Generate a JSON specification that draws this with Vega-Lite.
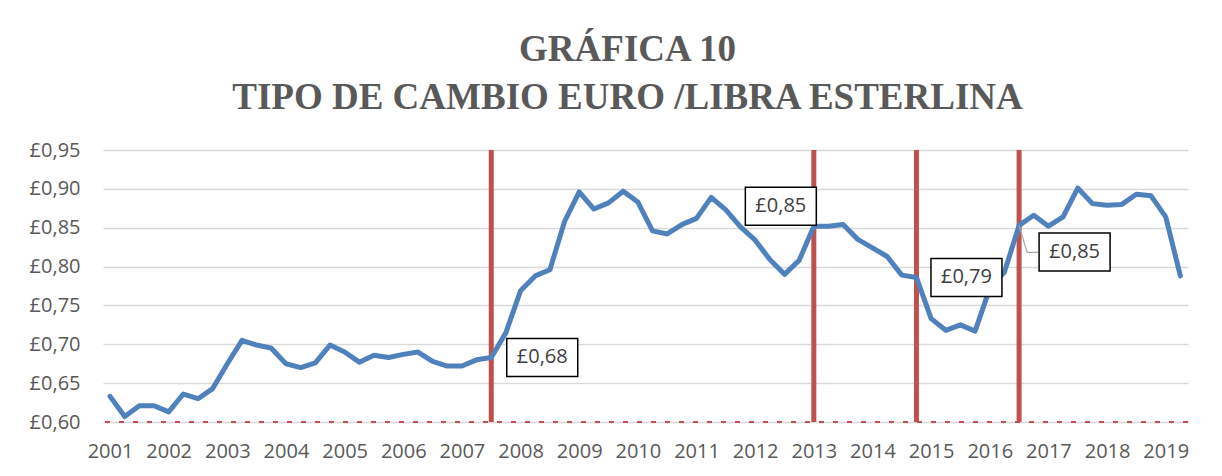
{
  "$schema": "https://vega.github.io/schema/vega-lite/v6.json",
  "width": 1085,
  "height": 272,
  "autosize": {"type": "none"},
  "padding": {"left": 103, "top": 150, "right": 34, "bottom": 54},
  "background": "white",
  "config": {"view": {"stroke": null}},
  "title": {
    "text": ["GRÁFICA 10", "TIPO DE CAMBIO EURO /LIBRA ESTERLINA"],
    "font": "Liberation Serif",
    "fontSize": 37,
    "fontWeight": "bold",
    "color": "#595959",
    "lineHeight": 48,
    "anchor": "middle",
    "frame": "group",
    "dx": -18,
    "offset": 23
  },
  "datasets": {
    "serie": [
      {"t": 2001.00, "v": 0.633}, {"t": 2001.25, "v": 0.607}, {"t": 2001.50, "v": 0.621}, {"t": 2001.75, "v": 0.621},
      {"t": 2002.00, "v": 0.613}, {"t": 2002.25, "v": 0.636}, {"t": 2002.50, "v": 0.630}, {"t": 2002.75, "v": 0.643},
      {"t": 2003.00, "v": 0.675}, {"t": 2003.25, "v": 0.705}, {"t": 2003.50, "v": 0.699}, {"t": 2003.75, "v": 0.695},
      {"t": 2004.00, "v": 0.675}, {"t": 2004.25, "v": 0.670}, {"t": 2004.50, "v": 0.676}, {"t": 2004.75, "v": 0.699},
      {"t": 2005.00, "v": 0.690}, {"t": 2005.25, "v": 0.677}, {"t": 2005.50, "v": 0.686}, {"t": 2005.75, "v": 0.683},
      {"t": 2006.00, "v": 0.687}, {"t": 2006.25, "v": 0.690}, {"t": 2006.50, "v": 0.678}, {"t": 2006.75, "v": 0.672},
      {"t": 2007.00, "v": 0.672}, {"t": 2007.25, "v": 0.680}, {"t": 2007.50, "v": 0.683}, {"t": 2007.75, "v": 0.715},
      {"t": 2008.00, "v": 0.769}, {"t": 2008.25, "v": 0.788}, {"t": 2008.50, "v": 0.796}, {"t": 2008.75, "v": 0.858},
      {"t": 2009.00, "v": 0.896}, {"t": 2009.25, "v": 0.874}, {"t": 2009.50, "v": 0.882}, {"t": 2009.75, "v": 0.897},
      {"t": 2010.00, "v": 0.883}, {"t": 2010.25, "v": 0.846}, {"t": 2010.50, "v": 0.842}, {"t": 2010.75, "v": 0.854},
      {"t": 2011.00, "v": 0.862}, {"t": 2011.25, "v": 0.889}, {"t": 2011.50, "v": 0.873}, {"t": 2011.75, "v": 0.851},
      {"t": 2012.00, "v": 0.834}, {"t": 2012.25, "v": 0.809}, {"t": 2012.50, "v": 0.790}, {"t": 2012.75, "v": 0.808},
      {"t": 2013.00, "v": 0.852}, {"t": 2013.25, "v": 0.852}, {"t": 2013.50, "v": 0.854}, {"t": 2013.75, "v": 0.835},
      {"t": 2014.00, "v": 0.824}, {"t": 2014.25, "v": 0.813}, {"t": 2014.50, "v": 0.789}, {"t": 2014.75, "v": 0.786},
      {"t": 2015.00, "v": 0.733}, {"t": 2015.25, "v": 0.718}, {"t": 2015.50, "v": 0.725}, {"t": 2015.75, "v": 0.717},
      {"t": 2016.00, "v": 0.772}, {"t": 2016.25, "v": 0.793}, {"t": 2016.50, "v": 0.853}, {"t": 2016.75, "v": 0.866},
      {"t": 2017.00, "v": 0.852}, {"t": 2017.25, "v": 0.864}, {"t": 2017.50, "v": 0.901}, {"t": 2017.75, "v": 0.881},
      {"t": 2018.00, "v": 0.879}, {"t": 2018.25, "v": 0.880}, {"t": 2018.50, "v": 0.893}, {"t": 2018.75, "v": 0.891},
      {"t": 2019.00, "v": 0.864}, {"t": 2019.25, "v": 0.788}
    ],
    "eventos": [
      {"t": 2007.5}, {"t": 2013.0}, {"t": 2014.75}, {"t": 2016.5}
    ],
    "base": [
      {"v": 0.6}
    ],
    "notas": [
      {"t": 2007.5, "v": 0.683, "label": "£0,68"},
      {"t": 2013.0, "v": 0.852, "label": "£0,85"},
      {"t": 2014.75, "v": 0.786, "label": "£0,79"},
      {"t": 2016.5, "v": 0.853, "label": "£0,85"}
    ]
  },
  "layer": [
    {
      "data": {"name": "base"},
      "mark": {"type": "rule", "color": "#c0504d", "strokeWidth": 2, "strokeDash": [5, 9], "opacity": 0},
      "encoding": {
        "y": {
          "field": "v",
          "type": "quantitative",
          "scale": {"domain": [0.6, 0.95], "nice": false, "zero": false},
          "axis": {
            "title": null,
            "values": [0.6, 0.65, 0.7, 0.75, 0.8, 0.85, 0.9, 0.95],
            "tickCount": 8,
            "labelExpr": "'£' + replace(format(datum.value, '.2f'), '.', ',')",
            "labelOverlap": false,
            "labelFlush": false,
            "grid": true,
            "gridColor": "#d9d9d9",
            "gridWidth": 1.5,
            "ticks": false,
            "domain": false,
            "labelFont": "Open Sans",
            "labelFontSize": 20,
            "labelColor": "#595959",
            "labelPadding": 23
          }
        }
      }
    },
    {
      "data": {"name": "eventos"},
      "mark": {"type": "rule", "color": "#c0504d", "strokeWidth": 5},
      "encoding": {
        "x": {
          "field": "t",
          "type": "quantitative",
          "scale": {"domain": [2000.88, 2019.38], "nice": false, "zero": false},
          "axis": {
            "title": null,
            "values": [2001, 2002, 2003, 2004, 2005, 2006, 2007, 2008, 2009, 2010, 2011, 2012, 2013, 2014, 2015, 2016, 2017, 2018, 2019],
            "format": "d",
            "grid": false,
            "ticks": false,
            "domain": false,
            "labelFont": "Open Sans",
            "labelFontSize": 20,
            "labelColor": "#595959",
            "labelPadding": 19,
            "labelFlush": false,
            "labelOverlap": false
          }
        }
      }
    },
    {
      "data": {"name": "serie"},
      "mark": {"type": "line", "color": "#4f81bd", "strokeWidth": 5, "strokeJoin": "round", "strokeCap": "round"},
      "encoding": {
        "x": {"field": "t", "type": "quantitative"},
        "y": {"field": "v", "type": "quantitative"}
      }
    },
    {
      "data": {"name": "base"},
      "mark": {"type": "rule", "color": "#c0504d", "strokeWidth": 2, "strokeDash": [5, 9]},
      "encoding": {"y": {"field": "v", "type": "quantitative"}}
    },
    {
      "data": {"name": "notas"},
      "transform": [{"filter": "datum.t == 2016.5"}],
      "mark": {"type": "rule", "color": "#a6a6a6", "strokeWidth": 1.2, "x2Offset": 8, "y2Offset": 27},
      "encoding": {
        "x": {"field": "t", "type": "quantitative"},
        "y": {"field": "v", "type": "quantitative"},
        "x2": {"field": "t"},
        "y2": {"field": "v"}
      }
    },
    {
      "data": {"name": "notas"},
      "transform": [{"filter": "datum.t == 2016.5"}],
      "mark": {"type": "rule", "color": "#a6a6a6", "strokeWidth": 1.2, "xOffset": 8, "yOffset": 27, "x2Offset": 19, "y2Offset": 27},
      "encoding": {
        "x": {"field": "t", "type": "quantitative"},
        "y": {"field": "v", "type": "quantitative"},
        "x2": {"field": "t"},
        "y2": {"field": "v"}
      }
    },
    {
      "data": {"name": "notas"},
      "transform": [{"filter": "datum.t == 2007.5"}],
      "layer": [
        {"mark": {"type": "point", "shape": "M-1.868,-1H1.868V1H-1.868Z", "size": 1444, "filled": true, "fill": "white", "stroke": "black", "strokeWidth": 1.5, "opacity": 1, "xOffset": 51, "yOffset": 0}},
        {"mark": {"type": "text", "font": "Open Sans", "fontSize": 20, "color": "#404040", "align": "center", "baseline": "middle", "dx": 51, "dy": 0}, "encoding": {"text": {"field": "label"}}}
      ],
      "encoding": {"x": {"field": "t", "type": "quantitative"}, "y": {"field": "v", "type": "quantitative"}}
    },
    {
      "data": {"name": "notas"},
      "transform": [{"filter": "datum.t == 2013.0"}],
      "layer": [
        {"mark": {"type": "point", "shape": "M-1.868,-1H1.868V1H-1.868Z", "size": 1444, "filled": true, "fill": "white", "stroke": "black", "strokeWidth": 1.5, "opacity": 1, "xOffset": -33, "yOffset": -20}},
        {"mark": {"type": "text", "font": "Open Sans", "fontSize": 20, "color": "#404040", "align": "center", "baseline": "middle", "dx": -33, "dy": -20}, "encoding": {"text": {"field": "label"}}}
      ],
      "encoding": {"x": {"field": "t", "type": "quantitative"}, "y": {"field": "v", "type": "quantitative"}}
    },
    {
      "data": {"name": "notas"},
      "transform": [{"filter": "datum.t == 2014.75"}],
      "layer": [
        {"mark": {"type": "point", "shape": "M-1.868,-1H1.868V1H-1.868Z", "size": 1444, "filled": true, "fill": "white", "stroke": "black", "strokeWidth": 1.5, "opacity": 1, "xOffset": 50, "yOffset": 0}},
        {"mark": {"type": "text", "font": "Open Sans", "fontSize": 20, "color": "#404040", "align": "center", "baseline": "middle", "dx": 50, "dy": 0}, "encoding": {"text": {"field": "label"}}}
      ],
      "encoding": {"x": {"field": "t", "type": "quantitative"}, "y": {"field": "v", "type": "quantitative"}}
    },
    {
      "data": {"name": "notas"},
      "transform": [{"filter": "datum.t == 2016.5"}],
      "layer": [
        {"mark": {"type": "point", "shape": "M-1.868,-1H1.868V1H-1.868Z", "size": 1444, "filled": true, "fill": "white", "stroke": "black", "strokeWidth": 1.5, "opacity": 1, "xOffset": 55.5, "yOffset": 26.5}},
        {"mark": {"type": "text", "font": "Open Sans", "fontSize": 20, "color": "#404040", "align": "center", "baseline": "middle", "dx": 55.5, "dy": 26.5}, "encoding": {"text": {"field": "label"}}}
      ],
      "encoding": {"x": {"field": "t", "type": "quantitative"}, "y": {"field": "v", "type": "quantitative"}}
    }
  ]
}
